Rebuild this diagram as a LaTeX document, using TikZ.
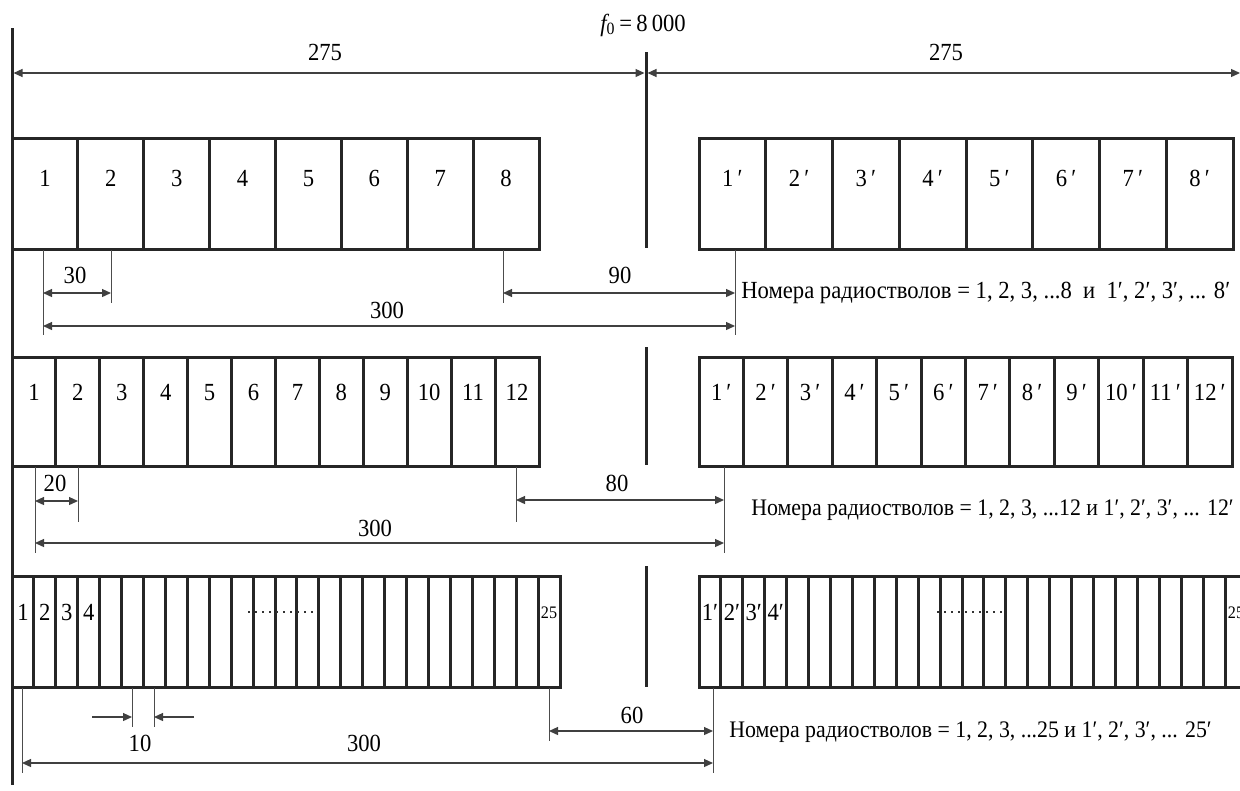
\documentclass[tikz,border=0pt]{standalone}
\usepackage{fontspec}
\setmainfont{Liberation Serif}[FakeStretch=0.92]
\usetikzlibrary{arrows.meta}
\tikzset{
    chanBox/.style={draw=black!85, line width=0.6mm},
    axisLine/.style={draw=black!85, line width=0.6mm},
    extLine/.style={draw=black!70, line width=0.2mm},
    dimLine/.style={draw=black!75, line width=0.25mm},
    dotRow/.style={draw=black!80, line width=0.25mm, dash pattern=on 0.3mm off 1.1mm},
    chanLbl/.style={inner sep=0pt, text height=9.5pt, text depth=0pt, font=\fontsize{14}{14}\selectfont},
    smallLbl/.style={inner sep=0pt, text height=7pt, text depth=0pt, font=\fontsize{10}{10}\selectfont},
    dimLbl/.style={inner sep=0pt, text height=9.5pt, text depth=0pt, font=\fontsize{14}{14}\selectfont},
    noteLbl/.style={inner sep=0pt, anchor=west, font=\fontsize{14}{14}\selectfont},
    noteSmall/.style={noteLbl, font=\fontsize{13.5}{14}\selectfont}
}

\begin{document}
\begin{tikzpicture}[x=0.2mm, y=-0.2mm, >={Triangle[length=1.8mm, width=1.6mm]}]
    \useasboundingbox (0,0) rectangle (1240,790);

    % Axis lines
    \draw[axisLine] (12,28) -- (12,785);
    \draw[axisLine] (646,52) -- (646,248);
    \draw[axisLine] (646,347) -- (646,465);
    \draw[axisLine] (646,566) -- (646,687);
    \node[inner sep=0pt, font=\fontsize{14}{14}\selectfont] (fnull) at (643,25) {{\itshape f}\textsubscript{0}\,=\,8\,000};

    % Top dimensions (275)
    \coordinate (tL) at (13.5,73);
    \coordinate (tC1) at (644.5,73);
    \coordinate (tC2) at (647.5,73);
    \coordinate (tR) at (1240,73);
    \draw[dimLine, <->] (tL) -- (tC1);
    \draw[dimLine, <->] (tC2) -- (tR);
    \node[dimLbl] (dimA) at (325,52) {275};
    \node[dimLbl] (dimB) at (946,52) {275};

    % Row 1: 8 channels
    \draw[chanBox] (12,138) rectangle (539,249);
    \foreach \n in {1,...,7} \draw[chanBox] ({12+65.875*\n},138) -- ++(0,111);
    \foreach \n in {1,...,8} \node[chanLbl] (ra\n) at ({12+65.875*(\n-0.5)},178) {\n};
    \draw[chanBox] (699,138) rectangle (1233,249);
    \foreach \n in {1,...,7} \draw[chanBox] ({699+66.75*\n},138) -- ++(0,111);
    \foreach \n in {1,...,8} \node[chanLbl] (rb\n) at ({699+66.75*(\n-0.5)},178) {{\n}\,′};

    % Row 1 dimensions
    \coordinate (e1a) at (43,250);   \coordinate (e1b) at (111,250);
    \coordinate (e1c) at (503,250);  \coordinate (e1d) at (735,250);
    \draw[extLine] (e1a) -- ++(0,85);
    \draw[extLine] (e1b) -- ++(0,53);
    \draw[extLine] (e1c) -- ++(0,53);
    \draw[extLine] (e1d) -- ++(0,85);
    \draw[dimLine, <->] (43,293) coordinate (p30a) -- (111,293) coordinate (p30b);
    \draw[dimLine, <->] (503,293) coordinate (p90a) -- (735,293) coordinate (p90b);
    \draw[dimLine, <->] (43,326) coordinate (q300a) -- (735,326) coordinate (q300b);
    \node[dimLbl] (l30) at (75,275) {30};
    \node[dimLbl] (l90) at (620,275) {90};
    \node[dimLbl] (l300a) at (387,310) {300};
    \node[noteLbl] (noteA) at (741,293) {Номера радиостволов = 1, 2, 3, ...8 \ и \ 1′, 2′, 3′, ... 8′};

    % Row 2: 12 channels
    \draw[chanBox] (12,357) rectangle (539,466);
    \foreach \n in {1,...,11} \draw[chanBox] ({12+43.917*\n},357) -- ++(0,109);
    \foreach \n in {1,...,12} \node[chanLbl] (sa\n) at ({12+43.917*(\n-0.5)},392) {\n};
    \draw[chanBox] (699,357) rectangle (1232,466);
    \foreach \n in {1,...,11} \draw[chanBox] ({699+44.417*\n},357) -- ++(0,109);
    \foreach \n in {1,...,12} \node[chanLbl] (sb\n) at ({699+44.417*(\n-0.5)},392) {{\n}\,′};

    % Row 2 dimensions
    \coordinate (e2a) at (35,467);   \coordinate (e2b) at (78,467);
    \coordinate (e2c) at (516,467);  \coordinate (e2d) at (724,467);
    \draw[extLine] (e2a) -- ++(0,86);
    \draw[extLine] (e2b) -- ++(0,55);
    \draw[extLine] (e2c) -- ++(0,55);
    \draw[extLine] (e2d) -- ++(0,86);
    \draw[dimLine, <->] (35,501) coordinate (p20a) -- (78,501) coordinate (p20b);
    \draw[dimLine, <->] (516,500) coordinate (p80a) -- (724,500) coordinate (p80b);
    \draw[dimLine, <->] (35,543) coordinate (q300c) -- (724,543) coordinate (q300d);
    \node[dimLbl] (l20) at (55,483) {20};
    \node[dimLbl] (l80) at (617,483) {80};
    \node[dimLbl] (l300b) at (375,528) {300};
    \node[noteSmall] (noteB) at (751,510) {Номера радиостволов = 1, 2, 3, ...12 и 1′, 2′, 3′, ... 12′};

    % Row 3: 25 channels
    \draw[chanBox] (12,576) rectangle (560,687);
    \foreach \n in {1,...,24} \draw[chanBox] ({12+21.92*\n},576) -- ++(0,111);
    \foreach \n in {1,...,4} \node[chanLbl] (ua\n) at ({12+21.92*(\n-0.5)},612) {\n};
    \node[smallLbl] (ua25) at (549,612) {25};
    \draw[dotRow] (248,612) -- (318,612);
    \draw[chanBox] (699,576) rectangle (1247,687);
    \foreach \n in {1,...,24} \draw[chanBox] ({699+21.92*\n},576) -- ++(0,111);
    \foreach \n in {1,...,4} \node[chanLbl] (ub\n) at ({699+21.92*(\n-0.5)},612) {{\n}′};
    \node[smallLbl] (ub25) at (1236,612) {25};
    \draw[dotRow] (937,612) -- (1007,612);

    % Row 3 dimensions
    \coordinate (e3a) at (22,688);   \coordinate (e3b) at (132,688);
    \coordinate (e3c) at (154,688);  \coordinate (e3d) at (549,688);
    \coordinate (e3e) at (713,688);
    \draw[extLine] (e3a) -- ++(0,85);
    \draw[extLine] (e3b) -- ++(0,39);
    \draw[extLine] (e3c) -- ++(0,39);
    \draw[extLine] (e3d) -- ++(0,53);
    \draw[extLine] (e3e) -- ++(0,85);
    \coordinate (w10a) at (92,717);  \coordinate (w10b) at (194,717);
    \draw[dimLine, ->] (w10a) -- (132,717);
    \draw[dimLine, ->] (w10b) -- (154,717);
    \draw[dimLine, <->] (549,731) coordinate (p60a) -- (713,731) coordinate (p60b);
    \draw[dimLine, <->] (22,763) coordinate (q300e) -- (713,763) coordinate (q300f);
    \node[dimLbl] (l10) at (140,743) {10};
    \node[dimLbl] (l60) at (632,715) {60};
    \node[dimLbl] (l300c) at (364,743) {300};
    \node[noteSmall] (noteC) at (729,732) {Номера радиостволов = 1, 2, 3, ...25 и 1′, 2′, 3′, ... 25′};
\end{tikzpicture}
\end{document}
